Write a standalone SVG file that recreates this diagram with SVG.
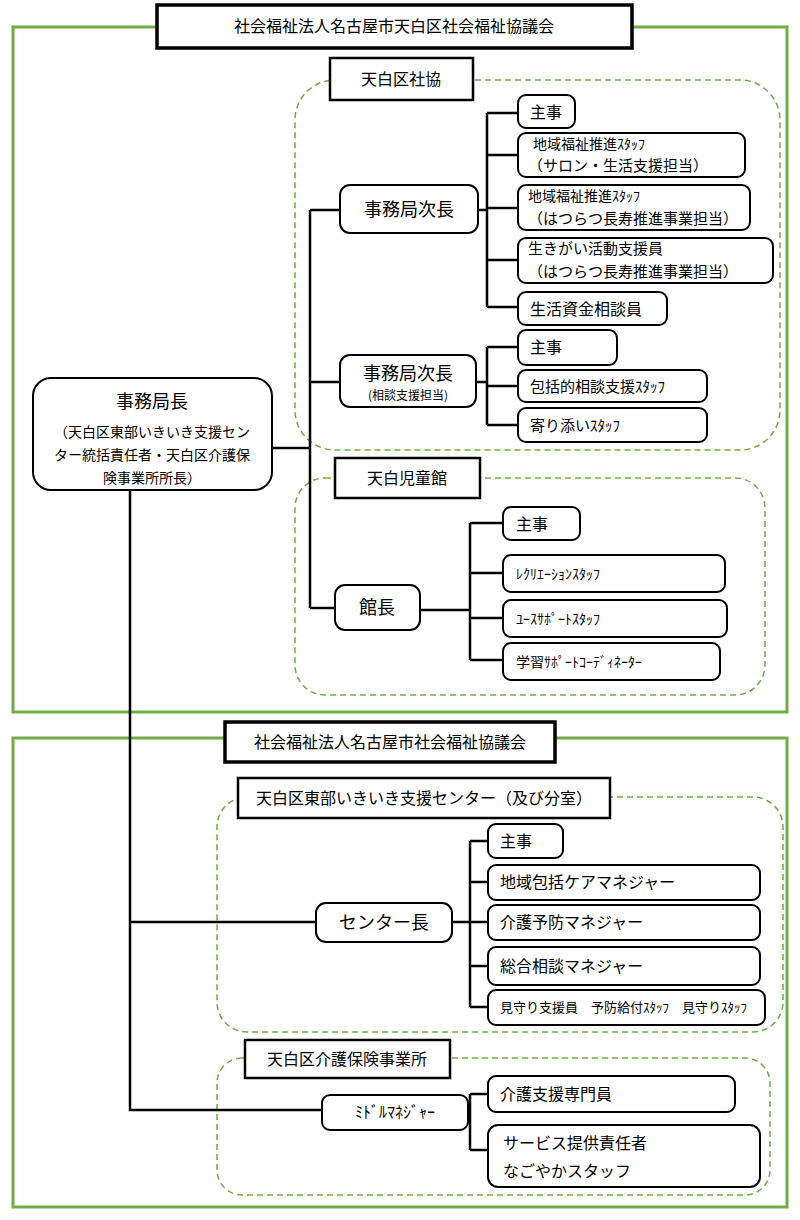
<svg xmlns="http://www.w3.org/2000/svg" width="800" height="1220" viewBox="0 0 800 1220">
<style>
text{font-family:"Noto Sans CJK JP","Noto Sans",sans-serif;fill:#000}
.outer{fill:none;stroke:#70ad47;stroke-width:3}
.dash{fill:none;stroke:#70ad47;stroke-width:1.5;stroke-dasharray:6,4}
.title{fill:#fff;stroke:#000;stroke-width:3.5}
.lbl{fill:#fff;stroke:#000;stroke-width:2.5}
.box{fill:#fff;stroke:#000;stroke-width:2}
.ln{fill:none;stroke:#000;stroke-width:2.5}
.t14{font-size:14px}.t15{font-size:15px}.t16{font-size:16px}.t18{font-size:18px}.t12{font-size:12px}.t13{font-size:13px}
</style>
<rect width="800" height="1220" fill="#fff"/>
<rect class="outer" x="13" y="27" width="774" height="685"/>
<rect class="outer" x="13" y="738" width="774" height="469"/>
<rect class="dash" x="295" y="80" width="485" height="370" rx="40"/>
<rect class="dash" x="295" y="478" width="470" height="217" rx="30"/>
<rect class="dash" x="217" y="797" width="566" height="235" rx="30"/>
<rect class="dash" x="217" y="1058" width="553" height="137" rx="25"/>
<g id="connectors">
<path class="ln" d="M272 448H310M310 210V608M310 210H340M310 382H340M310 608H335"/>
<path class="ln" d="M478 210H487M487 113V307M487 113H518M487 155H518M487 208H518M487 260H518M487 307H518"/>
<path class="ln" d="M476 382H487M487 347V425M487 347H518M487 386H518M487 425H518"/>
<path class="ln" d="M420 610H470M470 523V660M470 523H503M470 573H503M470 618H503M470 660H503"/>
<path class="ln" d="M130 490V1110H322M130 922H316"/>
<path class="ln" d="M452 922H470M470 841V1007M470 841H488M470 882H488M470 922H488M470 966H488M470 1007H488"/>
<path class="ln" d="M468 1112H470M470 1094V1150M470 1094H488M470 1150H488"/>
</g>
<g id="title1"><rect class="title" x="157" y="5" width="475" height="43"/><text class="t16" x="394" y="32" text-anchor="middle">社会福祉法人名古屋市天白区社会福祉協議会</text></g>
<g id="title2"><rect class="title" x="225" y="722" width="330" height="40"/><text class="t16" x="390" y="748" text-anchor="middle">社会福祉法人名古屋市社会福祉協議会</text></g>
<g id="lbl1"><rect class="lbl" x="330" y="58" width="143" height="42"/><text class="t16" x="401" y="85" text-anchor="middle">天白区社協</text></g>
<g id="lbl2"><rect class="lbl" x="335" y="458" width="145" height="40"/><text class="t16" x="407" y="484" text-anchor="middle">天白児童館</text></g>
<g id="lbl3"><rect class="lbl" x="238" y="778" width="372" height="40"/><text class="t16" x="424" y="804" text-anchor="middle">天白区東部いきいき支援センター（及び分室）</text></g>
<g id="lbl4"><rect class="lbl" x="245" y="1040" width="205" height="38"/><text class="t16" x="347" y="1065" text-anchor="middle">天白区介護保険事業所</text></g>
<g id="chief"><rect class="box" x="33" y="378" width="239" height="112" rx="18"/>
<text class="t18" x="152" y="408" text-anchor="middle">事務局長</text>
<text class="t14" x="152" y="437" text-anchor="middle">（天白区東部いきいき支援セン</text>
<text class="t14" x="152" y="460" text-anchor="middle">ター統括責任者・天白区介護保</text>
<text class="t14" x="152" y="483" text-anchor="middle">険事業所所長）</text></g>
<g id="deputy1"><rect class="box" x="340" y="185" width="138" height="48" rx="10"/><text class="t18" x="409" y="216" text-anchor="middle">事務局次長</text></g>
<g id="deputy2"><rect class="box" x="340" y="355" width="136" height="52" rx="10"/><text class="t18" x="408" y="380" text-anchor="middle">事務局次長</text><text class="t12" x="408" y="400" text-anchor="middle">(相談支援担当)</text></g>
<g id="kancho"><rect class="box" x="335" y="585" width="85" height="45" rx="10"/><text class="t18" x="377" y="614" text-anchor="middle">館長</text></g>
<g id="center"><rect class="box" x="316" y="903" width="136" height="39" rx="10"/><text class="t18" x="384" y="929" text-anchor="middle">センター長</text></g>
<g id="middle"><rect class="box" x="322" y="1095" width="146" height="35" rx="8"/><text class="t16" x="395" y="1118" text-anchor="middle">ﾐﾄﾞﾙﾏﾈｼﾞｬｰ</text></g>
<g id="a1"><rect class="box" x="518" y="95" width="57" height="33" rx="8"/><text class="t16" x="530" y="118">主事</text></g>
<g id="a2"><rect class="box" x="518" y="133" width="227" height="44" rx="8"/><text class="t14" x="533" y="149">地域福祉推進ｽﾀｯﾌ</text><text class="t15" x="528" y="171">（サロン・生活支援担当）</text></g>
<g id="a3"><rect class="box" x="518" y="185" width="232" height="45" rx="8"/><text class="t14" x="528" y="201">地域福祉推進ｽﾀｯﾌ</text><text class="t15" x="528" y="224">（はつらつ長寿推進事業担当）</text></g>
<g id="a4"><rect class="box" x="518" y="238" width="255" height="45" rx="8"/><text class="t15" x="528" y="254">生きがい活動支援員</text><text class="t15" x="528" y="277">（はつらつ長寿推進事業担当）</text></g>
<g id="a5"><rect class="box" x="518" y="292" width="149" height="33" rx="8"/><text class="t16" x="530" y="315">生活資金相談員</text></g>
<g id="b1"><rect class="box" x="518" y="330" width="99" height="35" rx="8"/><text class="t16" x="530" y="353">主事</text></g>
<g id="b2"><rect class="box" x="518" y="370" width="189" height="32" rx="8"/><text class="t15" x="530" y="392">包括的相談支援ｽﾀｯﾌ</text></g>
<g id="b3"><rect class="box" x="518" y="408" width="189" height="34" rx="8"/><text class="t15" x="530" y="431">寄り添いｽﾀｯﾌ</text></g>
<g id="c1"><rect class="box" x="503" y="507" width="77" height="33" rx="8"/><text class="t16" x="516" y="530">主事</text></g>
<g id="c2"><rect class="box" x="503" y="555" width="222" height="37" rx="8"/><text class="t14" x="516" y="579">ﾚｸﾘｴｰｼｮﾝｽﾀｯﾌ</text></g>
<g id="c3"><rect class="box" x="503" y="600" width="224" height="37" rx="8"/><text class="t14" x="516" y="624">ﾕｰｽｻﾎﾟｰﾄｽﾀｯﾌ</text></g>
<g id="c4"><rect class="box" x="503" y="643" width="217" height="37" rx="8"/><text class="t14" x="516" y="667">学習ｻﾎﾟｰﾄｺｰﾃﾞｨﾈｰﾀｰ</text></g>
<g id="d1"><rect class="box" x="488" y="824" width="75" height="34" rx="8"/><text class="t16" x="500" y="847">主事</text></g>
<g id="d2"><rect class="box" x="488" y="865" width="272" height="35" rx="8"/><text class="t16" x="500" y="888">地域包括ケアマネジャー</text></g>
<g id="d3"><rect class="box" x="488" y="905" width="272" height="35" rx="8"/><text class="t16" x="500" y="928">介護予防マネジャー</text></g>
<g id="d4"><rect class="box" x="488" y="947" width="272" height="38" rx="8"/><text class="t16" x="500" y="972">総合相談マネジャー</text></g>
<g id="d5"><rect class="box" x="488" y="990" width="277" height="35" rx="8"/><text class="t13" x="500" y="1012">見守り支援員　予防給付ｽﾀｯﾌ　見守りｽﾀｯﾌ</text></g>
<g id="e1"><rect class="box" x="488" y="1076" width="247" height="36" rx="8"/><text class="t16" x="500" y="1100">介護支援専門員</text></g>
<g id="e2"><rect class="box" x="488" y="1125" width="272" height="62" rx="10"/><text class="t16" x="503" y="1149">サービス提供責任者</text><text class="t16" x="503" y="1177">なごやかスタッフ</text></g>
</svg>
